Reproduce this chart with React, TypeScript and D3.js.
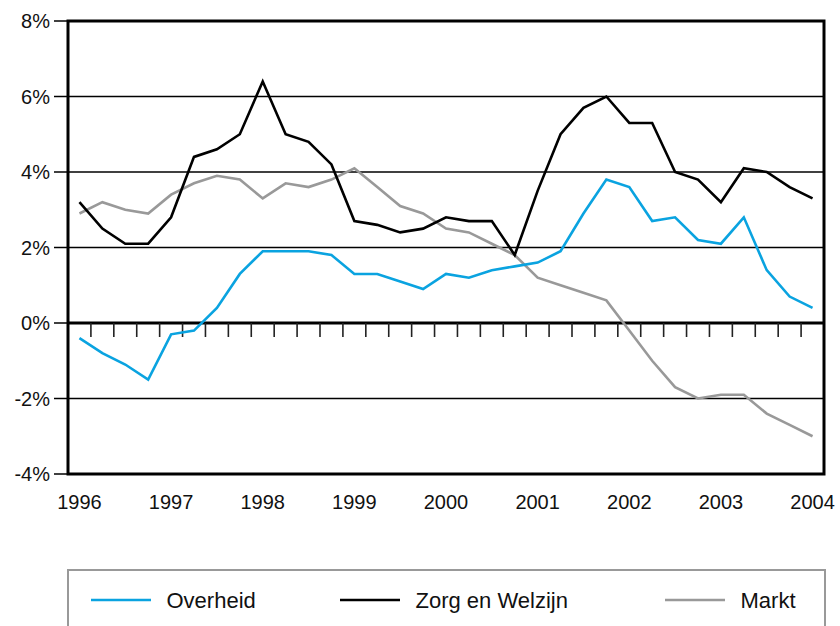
import React from "react";
import * as d3 from "d3";

const periods: number[] = d3.range(33); // quarters 1996 Q1 .. 2004 Q1
const yearLabels = ["1996", "1997", "1998", "1999", "2000", "2001", "2002", "2003", "2004"];
const yTicks = [-4, -2, 0, 2, 4, 6, 8];

const overheid = [
  -0.4, -0.8, -1.1, -1.5, -0.3, -0.2, 0.4, 1.3, 1.9, 1.9, 1.9, 1.8, 1.3, 1.3, 1.1, 0.9,
  1.3, 1.2, 1.4, 1.5, 1.6, 1.9, 2.9, 3.8, 3.6, 2.7, 2.8, 2.2, 2.1, 2.8, 1.4, 0.7, 0.4,
];
const zorg = [
  3.2, 2.5, 2.1, 2.1, 2.8, 4.4, 4.6, 5.0, 6.4, 5.0, 4.8, 4.2, 2.7, 2.6, 2.4, 2.5,
  2.8, 2.7, 2.7, 1.8, 3.5, 5.0, 5.7, 6.0, 5.3, 5.3, 4.0, 3.8, 3.2, 4.1, 4.0, 3.6, 3.3,
];
const markt = [
  2.9, 3.2, 3.0, 2.9, 3.4, 3.7, 3.9, 3.8, 3.3, 3.7, 3.6, 3.8, 4.1, 3.6, 3.1, 2.9,
  2.5, 2.4, 2.1, 1.8, 1.2, 1.0, 0.8, 0.6, -0.2, -1.0, -1.7, -2.0, -1.9, -1.9, -2.4, -2.7, -3.0,
];

const seriesNames = ["Overheid", "Zorg en Welzijn", "Markt"];
const seriesColors = ["#0aa3e0", "#000000", "#999999"];

const W = 840;
const H = 626;
const FONT = "'Liberation Sans', Arial, Helvetica, sans-serif";

export default function App() {
  const x = d3.scaleBand<number>().domain(periods).range([68, 824]).padding(0);
  const y = d3.scaleLinear().domain([-4, 8]).range([474, 21]);
  const cx = (i: number) => (x(i) as number) + x.bandwidth() / 2;

  const line = d3
    .line<number>()
    .x((_, i) => cx(i))
    .y((d) => y(d));

  const seriesData = [overheid, zorg, markt];
  const drawOrder = [2, 1, 0];

  const xTickPositions = periods.slice(1).map((p) => x(p) as number);

  const legendX = [91, 340, 665];

  return (
    <svg
      width={W}
      height={H}
      style={{ position: "absolute", left: 0, top: 0, background: "#fff" }}
      fontFamily={FONT}
    >
      <rect x={0} y={0} width={W} height={H} fill="#fff" />
      {/* gridlines */}
      {yTicks.map((t) => (
        <line
          key={"g" + t}
          x1={x.range()[0]}
          x2={x.range()[1]}
          y1={y(t)}
          y2={y(t)}
          stroke="#000"
          strokeWidth={t === 0 ? 3 : 1.5}
        />
      ))}
      {/* y ticks and labels */}
      {yTicks.map((t) => (
        <g key={"yt" + t}>
          <line x1={54} x2={68} y1={y(t)} y2={y(t)} stroke="#000" strokeWidth={1.5} />
          <text
            x={50}
            y={y(t)}
            textAnchor="end"
            dominantBaseline="central"
            fontSize={20}
            fill="#111"
          >
            {t + "%"}
          </text>
        </g>
      ))}
      {/* x ticks at zero line */}
      {xTickPositions.map((px, i) => (
        <line key={"xt" + i} x1={px} x2={px} y1={y(0)} y2={y(0) + 14} stroke="#222" strokeWidth={1.6} />
      ))}
      {/* series */}
      {drawOrder.map((si) => (
        <path
          key={"s" + si}
          d={line(seriesData[si]) || ""}
          fill="none"
          stroke={seriesColors[si]}
          strokeWidth={2.6}
          strokeLinejoin="miter"
        />
      ))}
      {/* frame */}
      <rect
        x={x.range()[0]}
        y={y(8)}
        width={x.range()[1] - x.range()[0]}
        height={y(-4) - y(8)}
        fill="none"
        stroke="#000"
        strokeWidth={3}
      />
      {/* year labels */}
      {yearLabels.map((lab, k) => (
        <text
          key={lab}
          x={cx(k * 4)}
          y={509}
          textAnchor="middle"
          fontSize={20}
          fill="#111"
        >
          {lab}
        </text>
      ))}
      {/* legend */}
      <rect x={68} y={570} width={757} height={80} fill="none" stroke="#999" strokeWidth={2} />
      {seriesNames.map((name, i) => (
        <g key={name}>
          <line
            x1={legendX[i]}
            x2={legendX[i] + 60}
            y1={600}
            y2={600}
            stroke={seriesColors[i]}
            strokeWidth={2.6}
          />
          <text
            x={legendX[i] + 75.5}
            y={600}
            dominantBaseline="central"
            fontSize={22}
            fill="#111"
          >
            {name}
          </text>
        </g>
      ))}
    </svg>
  );
}
